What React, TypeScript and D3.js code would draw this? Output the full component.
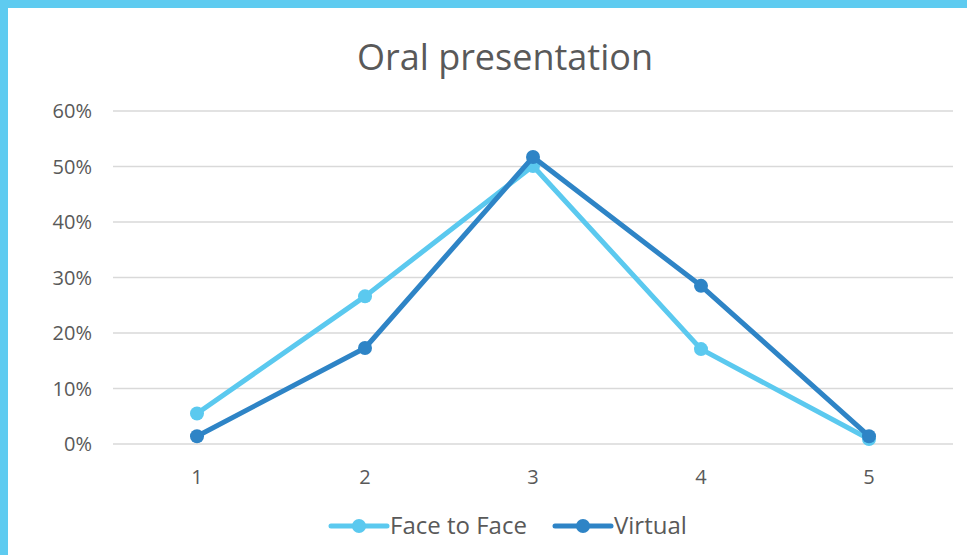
import React from "react";
import * as d3 from "d3";

const categories = ["1", "2", "3", "4", "5"];
const faceToFace = [5.5, 26.6, 50.1, 17.1, 0.9];
const virtual = [1.4, 17.3, 51.7, 28.5, 1.4];
const yTicks = [0, 10, 20, 30, 40, 50, 60];

const seriesList = [
  { name: "Face to Face", values: faceToFace, color: "#5BC9EF" },
  { name: "Virtual", values: virtual, color: "#2E84C6" },
];

const W = 967;
const H = 555;
const FONT = "'Open Sans', 'DejaVu Sans', sans-serif";

export default function App() {
  // plot area
  const left = 113;
  const right = 953;
  const top = 111;
  const bottom = 444;

  const x = d3.scalePoint<string>().domain(categories).range([left, right]).padding(0.5);
  const y = d3.scaleLinear().domain([0, 60]).range([bottom, top]);

  const line = d3
    .line<number>()
    .x((_, i) => x(categories[i]) as number)
    .y((d) => y(d));

  return (
    <div>
      <style>{"body{margin:0}"}</style>
      <svg width={W} height={H} style={{ display: "block" }}>
        <rect width={W} height={H} fill="#5ECBF0" />
        <rect x={8} y={8} width={W - 8} height={H - 8} fill="#ffffff" />

        <text x={505} y={70} textAnchor="middle" fontFamily={FONT} fontSize={36} fill="#595959">
          Oral presentation
        </text>

        {/* grid + y labels */}
        {yTicks.map((t) => (
          <g key={t}>
            <line x1={left} x2={right} y1={y(t)} y2={y(t)} stroke="#D9D9D9" strokeWidth={1.5} />
            <text
              x={92}
              y={y(t)}
              dy="0.35em"
              textAnchor="end"
              fontFamily={FONT}
              fontSize={20}
              fill="#595959"
            >
              {t}%
            </text>
          </g>
        ))}

        {/* x labels */}
        {categories.map((c) => (
          <text
            key={c}
            x={x(c)}
            y={484}
            textAnchor="middle"
            fontFamily={FONT}
            fontSize={20}
            fill="#595959"
          >
            {c}
          </text>
        ))}

        {/* series */}
        {seriesList.map((s) => (
          <g key={s.name}>
            <path d={line(s.values) ?? ""} fill="none" stroke={s.color} strokeWidth={5} strokeLinejoin="round" />
            {s.values.map((v, i) => (
              <circle key={i} cx={x(categories[i])} cy={y(v)} r={7} fill={s.color} />
            ))}
          </g>
        ))}

        {/* legend */}
        {seriesList.map((s, i) => {
          const lx = i === 0 ? 331 : 555;
          return (
            <g key={s.name}>
              <line x1={lx} x2={lx + 56} y1={526} y2={526} stroke={s.color} strokeWidth={5} strokeLinecap="round" />
              <circle cx={lx + 28} cy={526} r={7} fill={s.color} />
              <text x={lx + 59} y={526} dy="0.35em" fontFamily={FONT} fontSize={24} fill="#595959">
                {s.name}
              </text>
            </g>
          );
        })}
      </svg>
    </div>
  );
}
